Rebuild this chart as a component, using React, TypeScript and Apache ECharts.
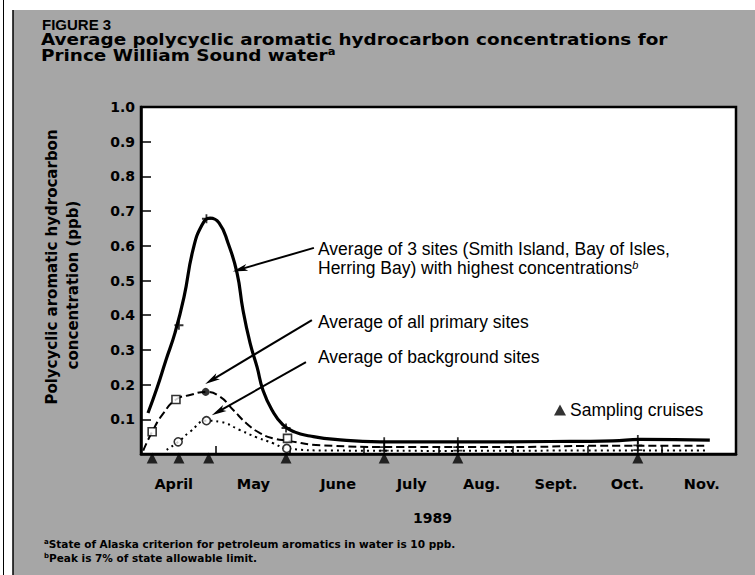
import React, { useEffect, useRef } from "react";
import * as echarts from "echarts";

// x values are months since April 1, 1989 (0 = Apr 1, 8 = Dec 1); y in ppb
const monthLabels = ["April", "May", "June", "July", "Aug.", "Sept.", "Oct.", "Nov."];
const monthLabelPos = [0.44, 1.51, 2.65, 3.64, 4.58, 5.58, 6.54, 7.54];
const monthTicks = [1, 2, 3, 4, 5, 6, 7];

const highestCurve = [
  [0.094, 0.118], [0.215, 0.19], [0.336, 0.271], [0.457, 0.349], [0.578, 0.452],
  [0.699, 0.588], [0.82, 0.66], [0.928, 0.68], [1.049, 0.666], [1.17, 0.608],
  [1.291, 0.522], [1.371, 0.415], [1.466, 0.32], [1.56, 0.251], [1.64, 0.184],
  [1.761, 0.127], [1.909, 0.084], [2.071, 0.063], [2.272, 0.052], [2.608, 0.042],
  [3.213, 0.035], [4.288, 0.035], [5.497, 0.036], [6.344, 0.038], [6.707, 0.042],
  [7.648, 0.04],
];
const primaryCurve = [
  [0.03, 0.01], [0.157, 0.067], [0.3, 0.117], [0.47, 0.157], [0.659, 0.17],
  [0.874, 0.179], [1.062, 0.165], [1.24, 0.127], [1.42, 0.088], [1.6, 0.06],
  [1.778, 0.045], [1.98, 0.038], [2.41, 0.025], [3.48, 0.02], [4.83, 0.02],
  [6.44, 0.024], [7.58, 0.024],
];
const backgroundCurve = [
  [0.345, 0.012], [0.5, 0.035], [0.659, 0.064], [0.883, 0.096], [1.062, 0.093],
  [1.33, 0.069], [1.555, 0.048], [1.778, 0.031], [1.958, 0.016], [2.54, 0.01],
  [4.15, 0.009], [6.17, 0.01], [7.6, 0.01],
];

const highestMarks = [[0.51, 0.371], [0.88, 0.678], [1.95, 0.075], [3.27, 0.035], [4.26, 0.035], [6.68, 0.042]];
const primarySquares = [[0.15, 0.064], [0.47, 0.157], [1.97, 0.045]];
const primaryPeak = [[0.87, 0.179]];
const primaryMarks = [[3.27, 0.02], [4.26, 0.02], [6.68, 0.025]];
const backgroundCircles = [[0.5, 0.035], [0.88, 0.096], [1.96, 0.016]];
const backgroundMarks = [[3.27, 0.01], [4.26, 0.01], [6.68, 0.011]];
const cruises = [0.15, 0.51, 0.91, 1.95, 3.27, 4.26, 6.68];

// arrows: [from, to] in data coordinates
const arrows = [
  [[2.325, 0.594], [1.331, 0.532]],
  [[2.298, 0.386], [0.95, 0.213]],
  [[2.218, 0.265], [1.039, 0.122]],
];

const PLUS = "path://M4,0H6V4H10V6H6V10H4V6H0V4H4Z";
const ARROW = "path://M5,0L10,16L5,12L0,16Z";

export default function App() {
  const ref = useRef<HTMLDivElement>(null);
  useEffect(() => {
    const chart = echarts.init(ref.current!, null, { renderer: "svg" });
    const HB = '"DejaVu Sans"';
    const SANS = '"Liberation Sans"';
    const black = "#000";

    const txt = (text: string, x: number, y: number, font: string, extra: any = {}, el: any = {}) => ({
      type: "text",
      x,
      y,
      z: 100,
      ...el,
      style: {
        text,
        font,
        fill: black,
        textAlign: "left",
        textVerticalAlign: "middle",
        ...extra,
      },
    });

    const option: any = {
      animation: false,
      backgroundColor: "#fff",
      grid: {
        left: 141,
        top: 107,
        width: 595,
        height: 347,
        show: true,
        backgroundColor: "#fff",
        borderColor: black,
        borderWidth: 2.5,
      },
      legend: {
        data: [{ name: "Sampling cruises", icon: "triangle" }],
        left: 549,
        top: 396,
        itemWidth: 12,
        itemHeight: 11,
        itemGap: 4,
        textStyle: { fontFamily: SANS, fontSize: 17.5, color: black, padding: [0, 0, 0, -1] },
        selectedMode: false,
      },
      xAxis: {
        type: "value",
        min: 0,
        max: 8,
        name: "1989",
        nameLocation: "middle",
        nameGap: 57,
        nameTextStyle: { fontFamily: HB, fontWeight: "bold", fontSize: 14, color: black, padding: [0, 12, 0, 0] },
        splitLine: { show: false },
        axisLine: { show: true, lineStyle: { color: black, width: 2.5 } },
        axisTick: { show: true, inside: true, length: 8, customValues: monthTicks, lineStyle: { color: black, width: 1.5 } },
        axisLabel: {
          customValues: monthLabelPos,
          margin: 22,
          fontFamily: HB,
          fontWeight: "bold",
          fontSize: 14.5,
          color: black,
          formatter: (v: number) => {
            let best = 0;
            monthLabelPos.forEach((p, i) => {
              if (Math.abs(p - v) < Math.abs(monthLabelPos[best] - v)) best = i;
            });
            return monthLabels[best];
          },
        },
      },
      yAxis: {
        type: "value",
        min: 0,
        max: 1,
        interval: 0.1,
        splitLine: { show: false },
        axisLine: { show: true, lineStyle: { color: black, width: 2.5 } },
        axisTick: { show: true, inside: true, length: 10, lineStyle: { color: black, width: 1.5 } },
        axisLabel: {
          margin: 6,
          fontFamily: HB,
          fontWeight: "bold",
          fontSize: 14,
          color: black,
          formatter: (v: number) => (v === 0 ? "" : v.toFixed(1)),
        },
      },
      series: [
        {
          type: "line",
          data: highestCurve,
          smooth: 0.5,
          showSymbol: false,
          lineStyle: { color: black, width: 3.2 },
          z: 3,
          markLine: {
            silent: true,
            symbol: ["none", ARROW],
            symbolSize: [7, 15],
            label: { show: false },
            lineStyle: { color: black, width: 2, type: "solid" },
            data: arrows.map(([a, b]) => [{ coord: a }, { coord: b }]),
          },
        },
        {
          type: "line",
          data: primaryCurve,
          smooth: 0.5,
          showSymbol: false,
          lineStyle: { color: black, width: 2, type: [8, 4] },
          z: 3,
        },
        {
          type: "line",
          data: backgroundCurve,
          smooth: 0.5,
          showSymbol: false,
          lineStyle: { color: black, width: 2, type: [2, 4] },
          z: 3,
        },
        { type: "scatter", data: highestMarks, symbol: PLUS, symbolSize: 9, itemStyle: { color: black }, z: 5 },
        {
          type: "scatter",
          data: primarySquares,
          symbol: "rect",
          symbolSize: 8,
          itemStyle: { color: "#fff", borderColor: black, borderWidth: 1.6 },
          z: 5,
        },
        { type: "scatter", data: primaryPeak, symbol: "circle", symbolSize: 8, itemStyle: { color: black }, z: 5 },
        { type: "scatter", data: primaryMarks, symbol: PLUS, symbolSize: 9, itemStyle: { color: black }, z: 5 },
        {
          type: "scatter",
          data: backgroundCircles,
          symbol: "circle",
          symbolSize: 8,
          itemStyle: { color: "#fff", borderColor: black, borderWidth: 1.6 },
          z: 5,
        },
        { type: "scatter", data: backgroundMarks, symbol: PLUS, symbolSize: 9, itemStyle: { color: black }, z: 5 },
        {
          type: "scatter",
          name: "Sampling cruises",
          data: cruises.map((c) => [c, 0]),
          symbol: "triangle",
          symbolSize: 11,
          symbolOffset: [0, 4],
          clip: false,
          itemStyle: { color: black },
          z: 6,
        },
      ],
      graphic: {
        elements: [
          { type: "rect", z: -1, shape: { x: 13, y: 10, width: 742, height: 565 }, style: { fill: "#a6a6a6" } },
          { type: "line", z: 1, shape: { x1: 3.5, y1: 0, x2: 3.5, y2: 575 }, style: { stroke: black, lineWidth: 1 } },
          { type: "line", z: 1, shape: { x1: 13, y1: 10, x2: 13, y2: 575 }, style: { stroke: black, lineWidth: 1.5 } },
          txt("FIGURE 3", 42, 24, `bold 15px ${SANS}`),
          txt("Average polycyclic aromatic hydrocarbon concentrations for", 41, 39, `bold 16px ${HB}`, { lineHeight: 16 }, { scaleX: 1.15 }),
          txt("Prince William Sound water{sup|a}", 41, 55, `bold 16px ${HB}`, {
            lineHeight: 16,
            rich: { sup: { font: `bold 10px ${HB}`, verticalAlign: "top", fill: black } },
          }, { scaleX: 1.15 }),
          {
            type: "text",
            x: 52,
            y: 267,
            rotation: Math.PI / 2,
            z: 100,
            style: {
              text: "Polycyclic aromatic hydrocarbon",
              font: `bold 15px ${HB}`,
              fill: black,
              textAlign: "center",
              textVerticalAlign: "middle",
            },
          },
          {
            type: "text",
            x: 73,
            y: 285,
            rotation: Math.PI / 2,
            z: 100,
            style: {
              text: "concentration (ppb)",
              font: `bold 15px ${HB}`,
              fill: black,
              textAlign: "center",
              textVerticalAlign: "middle",
            },
          },
          txt("Average of 3 sites (Smith Island, Bay of Isles,", 318, 249, `17.5px ${SANS}`),
          txt("Herring Bay) with highest concentrations{sup|b}", 318, 268, `17.5px ${SANS}`, {
            rich: { sup: { font: `italic 11px ${SANS}`, verticalAlign: "top", fill: black } },
          }),
          txt("Average of all primary sites", 318, 322, `17.5px ${SANS}`),
          txt("Average of background sites", 318, 357, `17.5px ${SANS}`),
          txt("{sup|a}State of Alaska criterion for petroleum aromatics in water is 10 ppb.", 44, 544, `bold 10.5px ${HB}`, {
            rich: { sup: { font: `bold 7px ${HB}`, verticalAlign: "top", fill: black } },
          }),
          txt("{sup|b}Peak is 7% of state allowable limit.", 44, 558, `bold 10.5px ${HB}`, {
            rich: { sup: { font: `bold 7px ${HB}`, verticalAlign: "top", fill: black } },
          }),
        ],
      },
    };
    chart.setOption(option);
    return () => chart.dispose();
  }, []);
  return <div ref={ref} style={{ position: "fixed", left: 0, top: 0, width: 755, height: 575 }} />;
}
